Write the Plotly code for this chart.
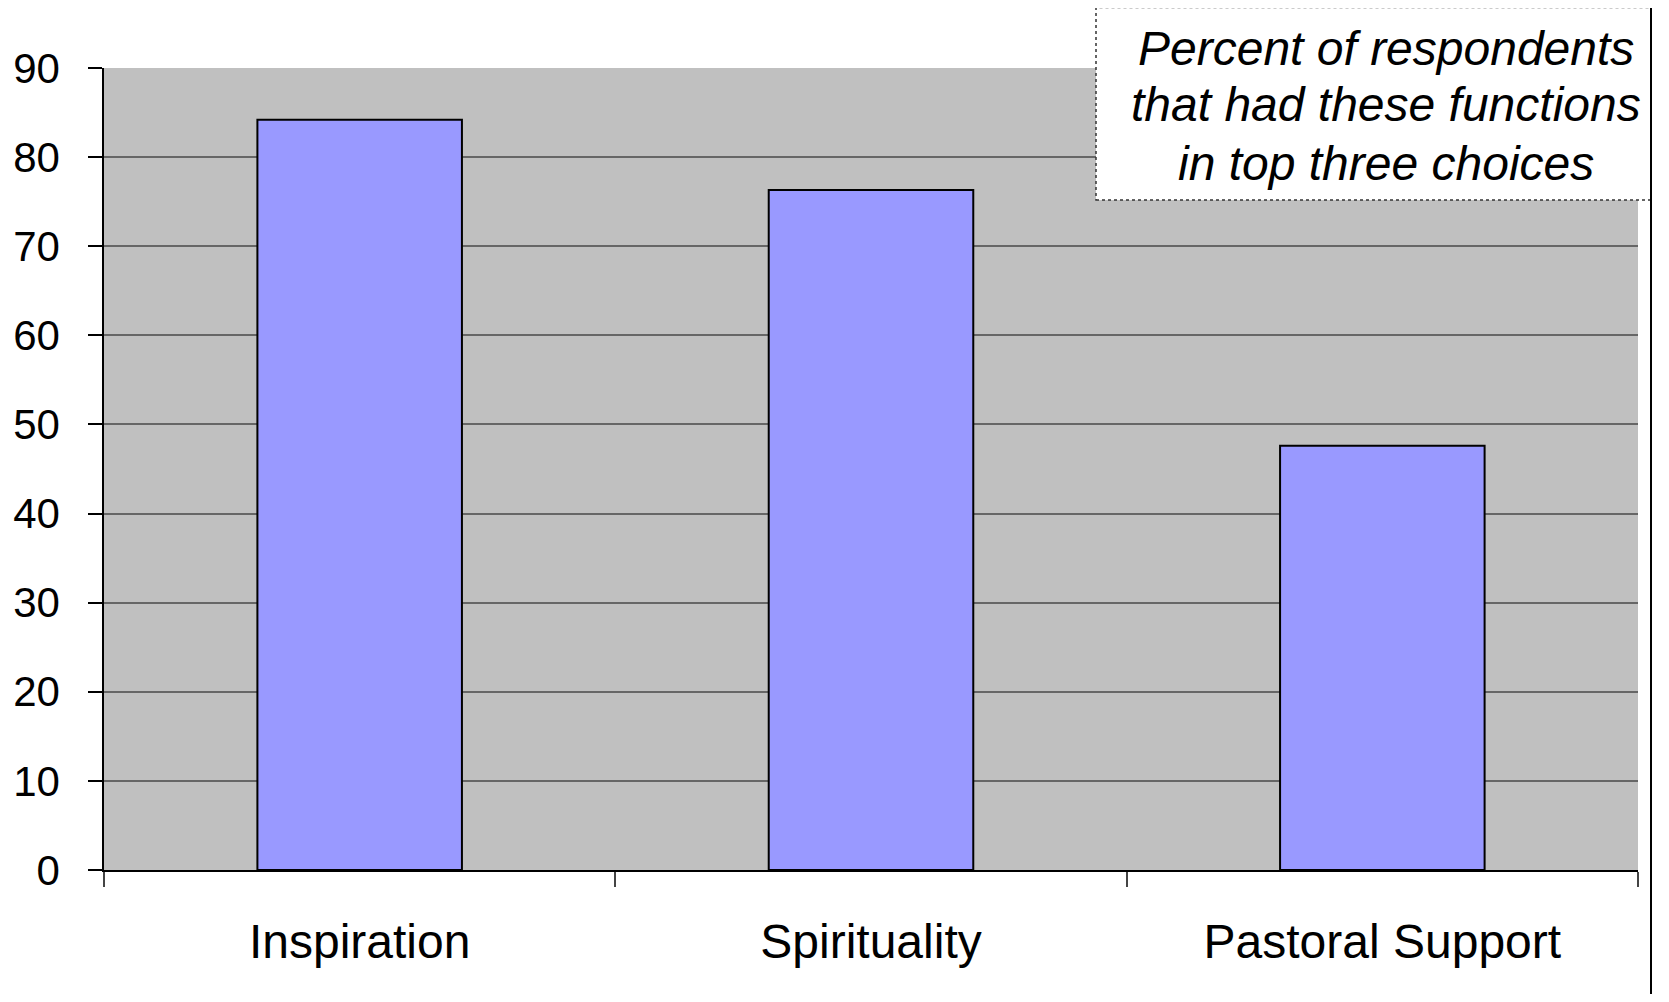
import plotly.graph_objects as go

categories = ["Inspiration", "Spirituality", "Pastoral Support"]
values = [84.2, 76.3, 47.6]
y_ticks = [0, 10, 20, 30, 40, 50, 60, 70, 80, 90]
note_lines = ["Percent of respondents", "that had these functions", "in top three choices"]

# page is offset by the default 8px body margin
OFF = 8
PAGE_W, PAGE_H = 1669, 1002
W, H = PAGE_W - 2 * OFF, PAGE_H - 2 * OFF
# plot area in page pixels
PX0, PX1, PY0, PY1 = 104, 1638, 68, 870
L, T = PX0 - OFF, PY0 - OFF
R, B = W - (PX1 - OFF), H - (PY1 - OFF)
FONT = "Liberation Sans, Arial, sans-serif"
PW, PH = PX1 - PX0, PY1 - PY0
FRAME_X = 1651


def px(x):
    return (x - PX0) / PW


def py(y):
    return (PY1 - y) / PH


fig = go.Figure()
fig.add_trace(go.Bar(
    x=categories, y=values,
    marker=dict(color="#9999FF", line=dict(color="#000000", width=2)),
    width=0.4,
    hoverinfo="x+y",
))

annotations = []
for line, yc in zip(note_lines, [48, 105, 163]):
    annotations.append(dict(
        xref="paper", yref="paper", x=px(1386), y=py(yc),
        xanchor="center", yanchor="middle", showarrow=False,
        text="<i>" + line + "</i>",
        font=dict(size=48, family=FONT, color="black")))

fig.update_layout(
    width=W, height=H,
    margin=dict(l=L, r=R, t=T, b=B, pad=0, autoexpand=False),
    paper_bgcolor="white",
    plot_bgcolor="#C0C0C0",
    showlegend=False,
    font=dict(family=FONT, color="black"),
    xaxis=dict(
        type="category",
        automargin=False,
        showgrid=False,
        showline=True, linecolor="black", linewidth=2,
        ticks="outside", tickson="boundaries", ticklen=15, tickcolor="#444444", tickwidth=1.5,
        tickfont=dict(size=48, family=FONT, color="black"),
        ticklabelstandoff=28,
        zeroline=False,
    ),
    yaxis=dict(
        range=[0, 90],
        automargin=False,
        tickvals=y_ticks,
        showgrid=True, gridcolor="#666666", gridwidth=1.5,
        showline=True, linecolor="black", linewidth=1.5,
        ticks="outside", ticklen=14, tickcolor="black", tickwidth=1.5,
        tickfont=dict(size=42, family=FONT, color="black"),
        ticklabelstandoff=20,
        zeroline=False,
    ),
    shapes=[
        dict(type="rect", xref="paper", yref="paper",
             x0=px(1096), x1=px(FRAME_X), y0=py(200), y1=py(7.5),
             fillcolor="white", line=dict(color="#333333", width=1.5, dash="dot"),
             layer="above"),
        dict(type="line", xref="paper", yref="paper",
             x0=px(FRAME_X), x1=px(FRAME_X), y0=py(PAGE_H), y1=py(0),
             line=dict(color="black", width=2)),
    ],
    annotations=annotations,
)

fig.write_html("out.html")
